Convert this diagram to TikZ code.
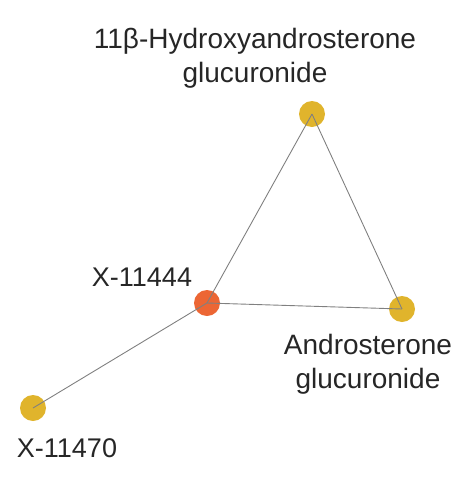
\documentclass[tikz,border=0pt]{standalone}
\usepackage{fontspec}
\setmainfont{Liberation Sans}
\definecolor{metyellow}{HTML}{E0B42C}
\definecolor{metorange}{HTML}{EC6634}
\begin{document}
\begin{tikzpicture}[x=1pt,y=-1pt,
    met/.style={circle,minimum size=26pt,inner sep=0pt},
    lbl/.style={font=\fontsize{27}{34}\selectfont,align=center,text=black!85},
    widelbl/.style={lbl,font=\fontsize{28}{34}\selectfont}]
  \useasboundingbox (0,0) rectangle (470,488);
  \node[met,fill=metyellow] (hydro) at (312,114) {};
  \node[met,fill=metyellow] (andro) at (402,309) {};
  \node[met,fill=metorange] (x11444) at (207,303) {};
  \node[met,fill=metyellow] (x11470) at (33,408) {};
  \path[draw=black!50,line width=0.9pt]
    (x11444.center) edge (hydro.center)
    edge (andro.center)
    edge (x11470.center)
    (hydro.center) edge (andro.center);
  \node[widelbl] (hydrolbl) at (255,58) {11β-Hydroxyandrosterone\\glucuronide};
  \node[widelbl] (androlbl) at (368,364) {Androsterone\\glucuronide};
  \node[lbl,anchor=base] (x11444lbl) at (142,286) {X-11444};
  \node[lbl,anchor=base] (x11470lbl) at (67,457) {X-11470};
\end{tikzpicture}
\end{document}
